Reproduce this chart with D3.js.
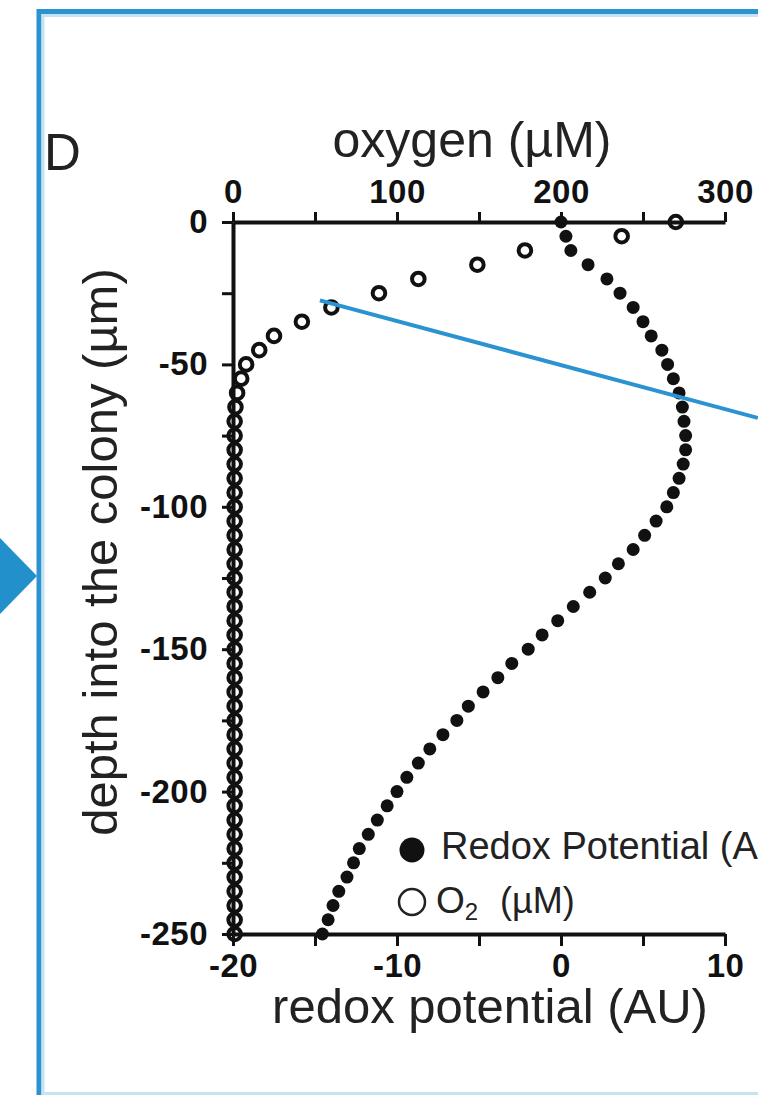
<!DOCTYPE html>
<html>
<head>
<meta charset="utf-8">
<script src="https://cdn.jsdelivr.net/npm/d3@7"></script>
<style>
  body { margin: 0; background: #fff; }
  svg { display: block; font-family: "Liberation Sans", Arial, sans-serif; }
</style>
</head>
<body>
<div id="chart"></div>
<script>
// depth into the colony (um), one reading every 5 um
var depths = [0, -5, -10, -15, -20, -25, -30, -35, -40, -45, -50, -55, -60, -65, -70, -75, -80, -85, -90, -95,
  -100, -105, -110, -115, -120, -125, -130, -135, -140, -145, -150, -155, -160, -165, -170, -175, -180, -185, -190, -195,
  -200, -205, -210, -215, -220, -225, -230, -235, -240, -245, -250];

// redox potential (AU), filled dots
var redox = [0.0, 0.3, 0.6, 1.65, 2.8, 3.6, 4.4, 5.0, 5.5, 6.15, 6.5, 6.85, 7.2, 7.4, 7.5, 7.6, 7.6, 7.45, 7.2, 6.85,
  6.45, 5.8, 5.1, 4.4, 3.5, 2.7, 1.75, 0.75, -0.2, -1.15, -2.0, -3.0, -3.85, -4.75, -5.65, -6.35, -7.2, -8.0, -8.7, -9.4,
  -10.0, -10.6, -11.2, -11.75, -12.3, -12.65, -13.05, -13.55, -13.9, -14.2, -14.55];

// oxygen (uM), open circles
var oxygen = [270, 237, 178, 149, 113, 89, 60, 42, 25, 16, 8, 5, 2.5, 1.5, 1, 1, 1, 1, 1, 1,
  1, 1, 1, 1, 1, 1, 1, 1, 1, 1, 1, 1, 1, 1, 1, 1, 1, 1, 1, 1,
  1, 1, 1, 1, 1, 1, 1, 1, 1, 1, 1];

var oxygenTicks = [0, 50, 100, 150, 200, 250, 300];
var oxygenLabels = [0, 100, 200, 300];
var redoxTicks = [-20, -15, -10, -5, 0, 5, 10];
var redoxLabels = [-20, -10, 0, 10];
var depthTicks = [0, -25, -50, -75, -100, -125, -150, -175, -200, -225, -250];
var depthLabels = [0, -50, -100, -150, -200, -250];

// pointer line, in data units (redox, depth)
var pointer = [[-14.7, -27.5], [12.0, -68.8]];

var svgWidth = 758;
var svgHeight = 1095;

var svg = d3.select("#chart")
  .append("svg")
  .attr("width", svgWidth)
  .attr("height", svgHeight);

// panel frame and arrow from the figure
svg.append("rect")
  .attr("x", 39).attr("y", 11.5)
  .attr("width", 760).attr("height", 1088)
  .attr("fill", "none")
  .attr("stroke", "#2a93d0")
  .attr("stroke-width", 5);
svg.append("rect")
  .attr("x", 43).attr("y", 15.5)
  .attr("width", 760).attr("height", 1078)
  .attr("fill", "none")
  .attr("stroke", "#c6e3f4")
  .attr("stroke-width", 3);
svg.append("path")
  .attr("d", "M-5,533 L37,576 L-5,619 Z")
  .attr("fill", "#2190cb");

// scales
var xRedox = d3.scaleLinear().domain([-20, 10]).range([233, 725]);
var xOxygen = d3.scaleLinear().domain([0, 300]).range([233, 725]);
var yDepth = d3.scaleLinear().domain([0, -250]).range([222, 934]);

function styleAxis(g) {
  g.select(".domain").attr("stroke", "#111").attr("stroke-width", 4);
  g.selectAll(".tick line").attr("stroke", "#111").attr("stroke-width", 3);
  g.selectAll(".tick text")
    .attr("fill", "#111")
    .style("font-size", "33px")
    .style("letter-spacing", "0.5px")
    .style("font-weight", "bold");
}

// top axis: oxygen
svg.append("g")
  .attr("transform", "translate(0," + yDepth(0) + ")")
  .call(d3.axisTop(xOxygen).tickValues(oxygenTicks).tickSize(10).tickSizeOuter(0).tickPadding(9)
    .tickFormat(function(d) { return oxygenLabels.indexOf(d) >= 0 ? d : ""; }))
  .call(styleAxis);

// bottom axis: redox potential
svg.append("g")
  .attr("transform", "translate(0," + yDepth(-250) + ")")
  .call(d3.axisBottom(xRedox).tickValues(redoxTicks).tickSize(12).tickSizeOuter(0).tickPadding(8)
    .tickFormat(function(d) { return redoxLabels.indexOf(d) >= 0 ? d : ""; }))
  .call(styleAxis);

// left axis: depth
svg.append("g")
  .attr("transform", "translate(" + xRedox(-20) + ",0)")
  .call(d3.axisLeft(yDepth).tickValues(depthTicks).tickSize(11).tickSizeOuter(0).tickPadding(14)
    .tickFormat(function(d) { return depthLabels.indexOf(d) >= 0 ? d : ""; }))
  .call(styleAxis);

// axis titles
svg.append("text")
  .attr("x", 472).attr("y", 157)
  .attr("text-anchor", "middle")
  .style("font-size", "50px")
  .attr("fill", "#222")
  .text("oxygen (\u00b5M)");

svg.append("text")
  .attr("x", 490).attr("y", 1023)
  .attr("text-anchor", "middle")
  .style("font-size", "49px")
  .attr("fill", "#222")
  .text("redox potential (AU)");

svg.append("text")
  .attr("transform", "translate(117,552) rotate(-90)")
  .attr("text-anchor", "middle")
  .style("font-size", "49px")
  .attr("fill", "#222")
  .text("depth into the colony (\u00b5m)");

svg.append("text")
  .attr("x", 44).attr("y", 170)
  .style("font-size", "51px")
  .attr("fill", "#222")
  .text("D");

// oxygen profile
svg.append("g").selectAll("circle")
  .data(depths)
  .enter()
  .append("circle")
  .attr("cx", function(d, i) { return xOxygen(oxygen[i]); })
  .attr("cy", function(d) { return yDepth(d); })
  .attr("r", 6.3)
  .attr("fill", "none")
  .attr("stroke", "#111")
  .attr("stroke-width", 4);

// redox profile
svg.append("g").selectAll("circle")
  .data(depths)
  .enter()
  .append("circle")
  .attr("cx", function(d, i) { return xRedox(redox[i]); })
  .attr("cy", function(d) { return yDepth(d); })
  .attr("r", 6.5)
  .attr("fill", "#111");

// legend
var legend = svg.append("g");
legend.append("circle")
  .attr("cx", 412).attr("cy", 850).attr("r", 12.5)
  .attr("fill", "#111");
legend.append("text")
  .attr("x", 441).attr("y", 859)
  .style("font-size", "38px")
  .attr("fill", "#222")
  .text("Redox Potential (AU)");
legend.append("circle")
  .attr("cx", 412).attr("cy", 902).attr("r", 13)
  .attr("fill", "none")
  .attr("stroke", "#222")
  .attr("stroke-width", 2.5);
var o2 = legend.append("text")
  .attr("x", 436).attr("y", 913)
  .attr("fill", "#222");
o2.append("tspan").style("font-size", "37px").text("O");
o2.append("tspan").style("font-size", "24px").attr("dy", 7).text("2");
o2.append("tspan").style("font-size", "36px").attr("dy", -7).attr("x", 500).text("(\u00b5M)");

// blue pointer line
svg.append("line")
  .attr("x1", xRedox(pointer[0][0])).attr("y1", yDepth(pointer[0][1]))
  .attr("x2", xRedox(pointer[1][0])).attr("y2", yDepth(pointer[1][1]))
  .attr("stroke", "#2b93d1")
  .attr("stroke-width", 4);
</script>
</body>
</html>
